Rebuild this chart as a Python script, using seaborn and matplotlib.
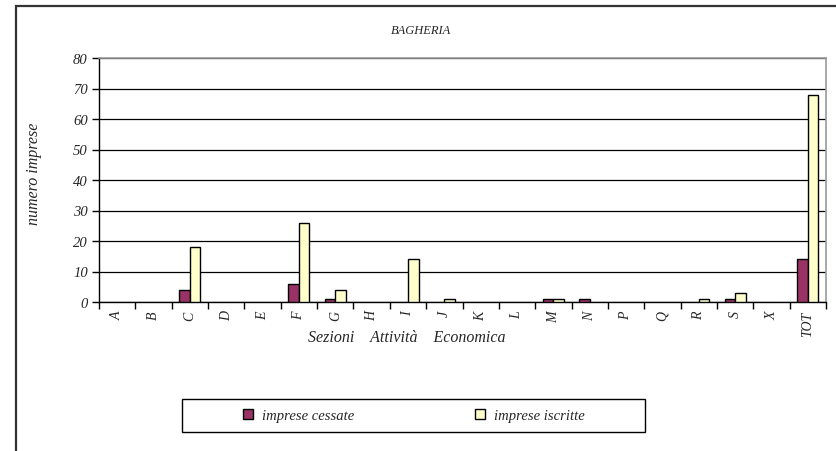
import numpy as np
import pandas as pd
import matplotlib
matplotlib.use("Agg")
import matplotlib.pyplot as plt
from matplotlib.patches import Rectangle
from matplotlib.lines import Line2D
import seaborn as sns

categories = ["A", "B", "C", "D", "E", "F", "G", "H", "I", "J", "K", "L",
              "M", "N", "P", "Q", "R", "S", "X", "TOT"]
cessate = [0, 0, 4, 0, 0, 6, 1, 0, 0, 0, 0, 0, 1, 1, 0, 0, 0, 1, 0, 14]
iscritte = [0, 0, 18, 0, 0, 26, 4, 0, 14, 1, 0, 0, 1, 0, 0, 0, 1, 3, 0, 68]
series_names = ["imprese cessate", "imprese iscritte"]
yticks = [0, 10, 20, 30, 40, 50, 60, 70, 80]
title = "BAGHERIA"
ylabel = "numero imprese"
xlabel = "Sezioni    Attività    Economica"

df = pd.DataFrame({
    "cat": categories * 2,
    "val": cessate + iscritte,
    "serie": [series_names[0]] * len(categories) + [series_names[1]] * len(categories),
})

sns.set_style("white")
plt.rcParams["font.family"] = ["Liberation Serif", "DejaVu Serif"]
plt.rcParams["font.style"] = "italic"

W, H = 836, 452
fig = plt.figure(figsize=(W / 100, H / 100), dpi=100)
fig.patch.set_facecolor("white")
ax = fig.add_axes([99 / W, 1 - 303 / H, (826 - 99) / W, (303 - 59) / H])

colors = {series_names[0]: "#993366", series_names[1]: "#FFFFCC"}
sns.barplot(data=df, x="cat", y="val", hue="serie", order=categories,
            hue_order=series_names, palette=colors, width=0.58,
            edgecolor="black", linewidth=1.0, saturation=1, ax=ax,
            legend=False, zorder=3)
for p in ax.patches:
    if p.get_height() == 0:
        p.set_visible(False)

ax.set_ylim(0, 80)
ax.set_xlim(-0.5, len(categories) - 0.5)
ax.set_yticks(yticks)
ax.set_yticklabels([str(v) for v in yticks], fontsize=10.5, fontstyle="italic")
ax.yaxis.grid(True, color="black", linewidth=0.9, zorder=0)
ax.set_axisbelow(True)

ax.set_xticks(range(len(categories)))
ax.set_xticklabels(categories, rotation=90, fontsize=10, fontstyle="italic")
ax.set_xticks(np.arange(-0.5, len(categories) + 0.5, 1), minor=True)
ax.tick_params(axis="x", which="major", length=0, pad=6)
ax.tick_params(axis="x", which="minor", length=5, width=1, color="black", bottom=True)
ax.tick_params(axis="y", which="major", length=5, width=1, color="black", left=True, pad=3)

for s in ["left", "bottom"]:
    ax.spines[s].set_color("black")
    ax.spines[s].set_linewidth(1.0)
for s in ["top", "right"]:
    ax.spines[s].set_color("#9a9a9a")
    ax.spines[s].set_linewidth(1.2)

ax.set_xlabel("")
ax.set_ylabel(ylabel, fontsize=11.5, fontstyle="italic")
ax.yaxis.set_label_coords(-0.078, 0.53)
ax.text(407 / W, 1 - 338 / H, xlabel, transform=fig.transFigure,
        ha="center", va="center", fontsize=11.5, fontstyle="italic")
fig.text(421 / W, 1 - 31 / H, title, ha="center", va="center",
         fontsize=9, fontstyle="italic")

# outer frame
fig.patches.append(Rectangle((16 / W, -0.1), 1.0, 1 - 7 / H + 0.1,
                             transform=fig.transFigure, fill=False,
                             edgecolor="#333333", linewidth=1.6))
# legend box
fig.patches.append(Rectangle((182 / W, 1 - 433 / H), (645 - 182) / W, 33 / H,
                             transform=fig.transFigure, fill=False,
                             edgecolor="black", linewidth=1.0))
handles = [Line2D([], [], linestyle="none", marker="s", markersize=7,
                  markerfacecolor=colors[n], markeredgecolor="black",
                  markeredgewidth=1.0) for n in series_names]
fig.legend(handles, series_names, loc="center", ncol=2,
           bbox_to_anchor=(413.5 / W, 1 - 416.5 / H), frameon=False,
           prop={"family": "Liberation Serif", "style": "italic", "size": 10.5},
           handlelength=0.8, handletextpad=0.6, columnspacing=8.2)

fig.savefig("out.png", dpi=100)
